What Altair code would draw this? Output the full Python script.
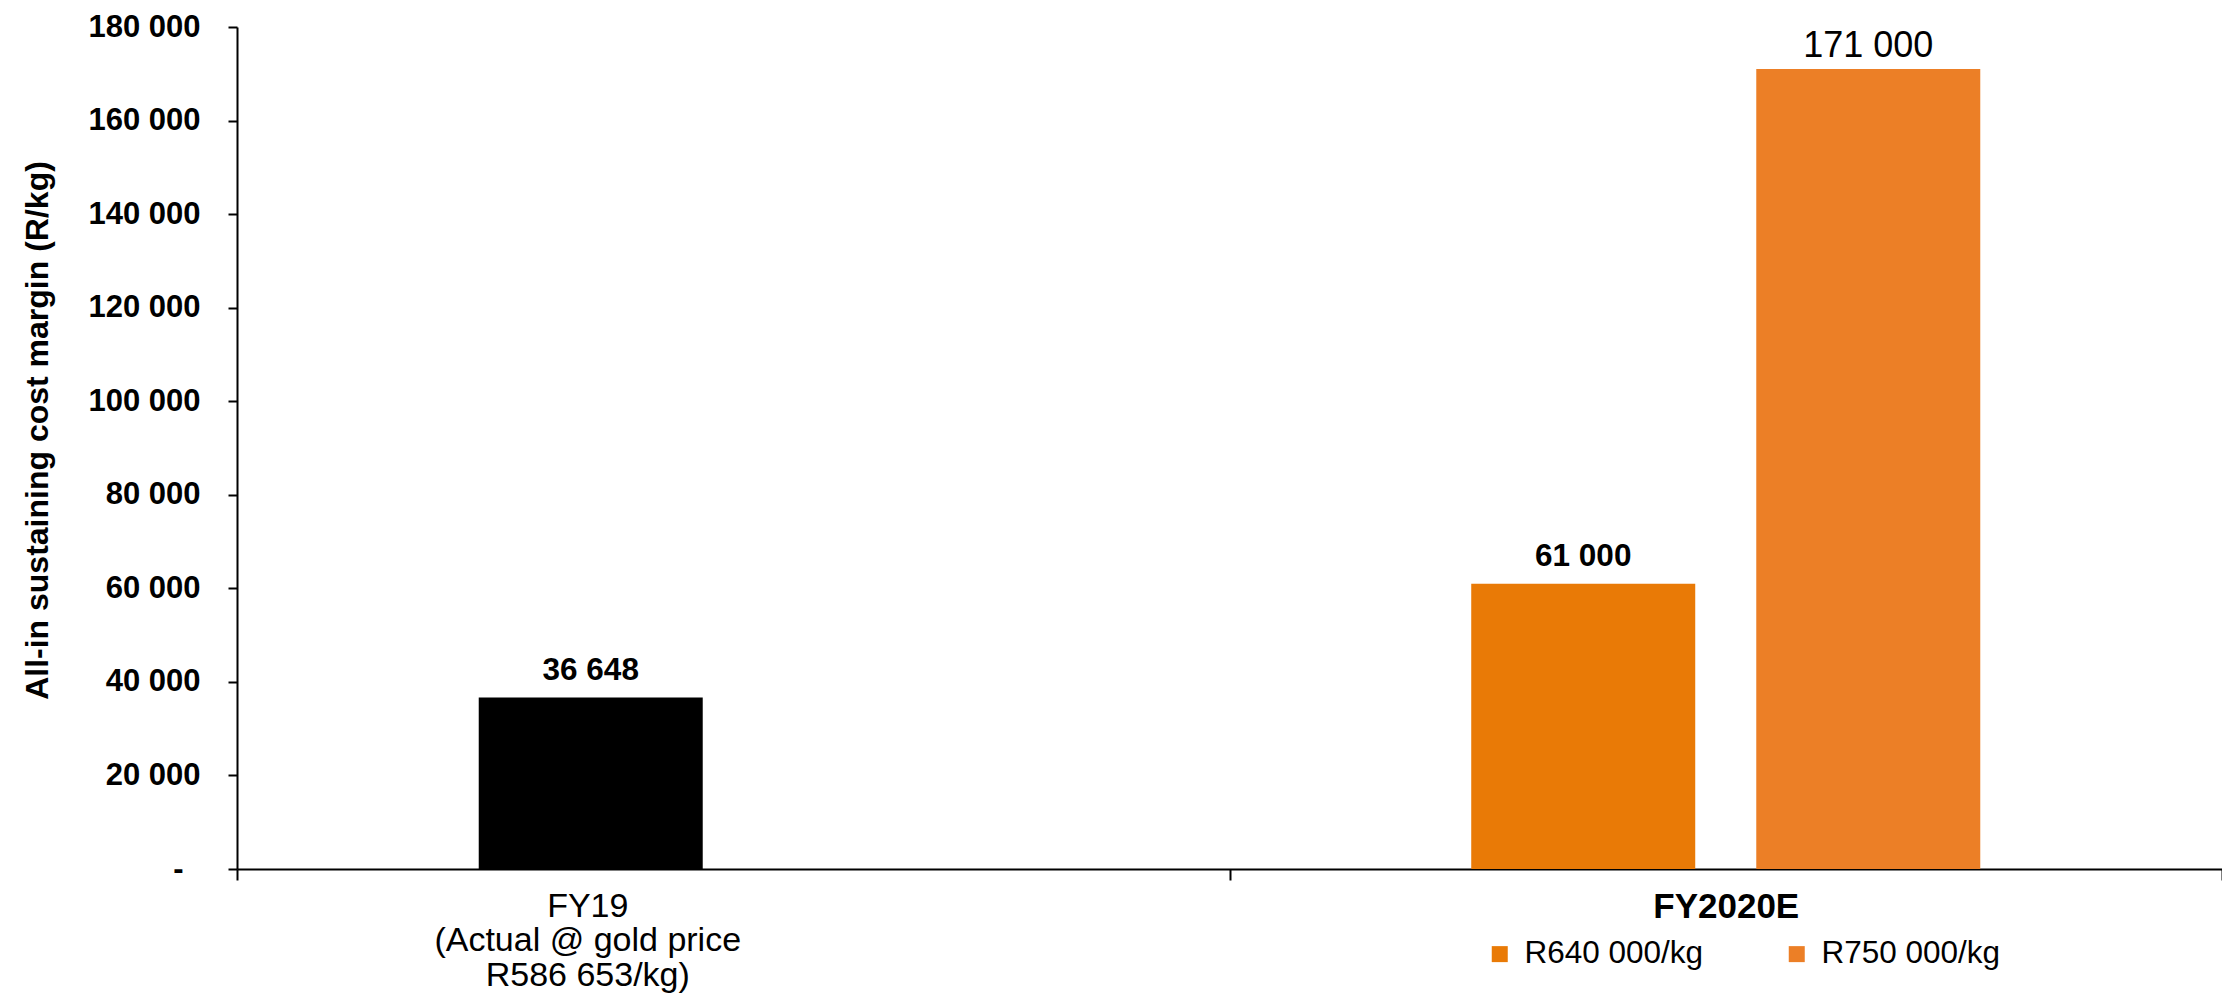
import altair as alt
import pandas as pd

# ---- data ----
categories = ["FY19", "FY2020E", "FY2020E"]
slots = ["s1", "s1", "s2"]
scenarios = ["FY19 actual", "R640 000/kg", "R750 000/kg"]
values = [36648, 61000, 171000]
label_bold = [True, True, False]
scenario_colors = ["#000000", "#E97A06", "#EC7F26"]
legend_items = ["R640 000/kg", "R750 000/kg"]
fy19_label_lines = ["FY19", "(Actual @ gold price", "R586 653/kg)"]
y_ticks = [0, 20000, 40000, 60000, 80000, 100000, 120000, 140000, 160000, 180000]
y_title = "All-in sustaining cost margin (R/kg)"

df = pd.DataFrame({
    "category": categories,
    "slot": slots,
    "scenario": scenarios,
    "value": values,
    "bold": label_bold,
})

FONT = "Liberation Sans"
fmt_expr = "replace(format(datum.value, ','), ',', ' ')"

lines_js = "[" + ", ".join("'" + s + "'" for s in fy19_label_lines) + "]"
x_label_expr = f"datum.value == 'FY19' ? {lines_js} : datum.value"

x_enc = alt.X(
    "category:N",
    sort=["FY19", "FY2020E"],
    scale=alt.Scale(paddingInner=0, paddingOuter=0),
    axis=alt.Axis(
        title=None,
        labelAngle=0,
        labelExpr=x_label_expr,
        labelFont=FONT,
        labelFontSize={"condition": {"test": "datum.value == 'FY2020E'", "value": 35}, "value": 34},
        labelFontWeight={"condition": {"test": "datum.value == 'FY2020E'", "value": "bold"}, "value": "normal"},
        labelOffset={"condition": {"test": "datum.value == 'FY19'", "value": -146}, "value": 0},
        labelColor="#000000",
        labelLineHeight=34.5,
        labelLimit=0,
        labelPadding=9,
        domainColor="#000000",
        domainWidth=2,
        tickColor="#000000",
        tickWidth=2,
        tickSize=11,
        tickBand="extent",
    ),
)
xoff_enc = alt.XOffset(
    "slot:N",
    sort=["s1", "s2"],
    scale=alt.Scale(paddingInner=0.214, paddingOuter=0.848),
)
y_enc = alt.Y(
    "value:Q",
    scale=alt.Scale(domain=[0, 180000], nice=False),
    axis=alt.Axis(
        values=y_ticks,
        labelExpr="datum.value == 0 ? '-' : " + fmt_expr,
        labelFont=FONT,
        labelFontSize=31,
        labelFontWeight="bold",
        labelColor="#000000",
        labelPadding={"condition": {"test": "datum.value == 0", "value": 45}, "value": 28},
        grid=False,
        domainColor="#000000",
        domainWidth=2,
        tickColor="#000000",
        tickWidth=2,
        tickSize=9,
        title=y_title,
        titleFont=FONT,
        titleFontSize=32,
        titleFontWeight="bold",
        titleColor="#000000",
        titleAngle=270,
        titleAlign="center",
        titleBaseline="middle",
        titleX=-200,
        titleY=403,
    ),
)

base = alt.Chart(df)

bars = base.mark_bar(size=224).encode(
    x=x_enc,
    xOffset=xoff_enc,
    y=y_enc,
    color=alt.Color(
        "scenario:N",
        scale=alt.Scale(domain=scenarios, range=scenario_colors),
        legend=alt.Legend(
            values=legend_items,
            title=None,
            orient="none",
            legendX=1247,
            legendY=911,
            direction="horizontal",
            symbolType="square",
            symbolSize=256,
            symbolStrokeWidth=0,
            labelFont=FONT,
            labelFontSize=31.5,
            labelColor="#000000",
            labelOffset=9,
            columnPadding=77,
            padding=0,
            labelLimit=0,
        ),
    ),
)

labels_bold = base.transform_filter("datum.bold").transform_calculate(
    txt=fmt_expr
).mark_text(
    font=FONT, fontSize=31.5, fontWeight="bold", color="#000000",
    baseline="alphabetic", dy=-18
).encode(x=x_enc, xOffset=xoff_enc, y=y_enc, text="txt:N")

labels_norm = base.transform_filter("!datum.bold").transform_calculate(
    txt=fmt_expr
).mark_text(
    font=FONT, fontSize=36, fontWeight="normal", color="#000000",
    baseline="alphabetic", dy=-12
).encode(x=x_enc, xOffset=xoff_enc, y=y_enc, text="txt:N")

chart = alt.layer(bars, labels_bold, labels_norm).properties(
    width=1985,
    height=842,
    autosize=alt.AutoSizeParams(type="none"),
    padding={"left": 237, "top": 27, "right": 0, "bottom": 128},
).configure(background="#ffffff").configure_view(stroke=None, strokeWidth=0)

chart.save("out.html", embed_options={"renderer": "svg", "actions": False})
